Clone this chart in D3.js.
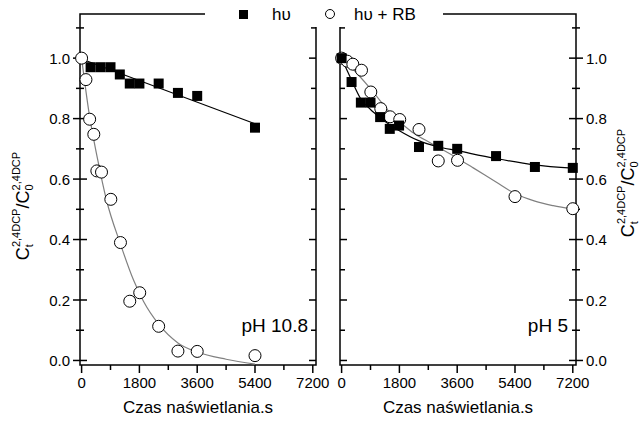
<!DOCTYPE html>
<html>
<head>
<meta charset="utf-8">
<script src="https://cdn.jsdelivr.net/npm/d3@7"></script>
<style>
  body { margin: 0; background: #fff; }
  svg { display: block; font-family: "Liberation Sans", Arial, sans-serif; }
</style>
</head>
<body>
<div id="chart"></div>
<script>
// irradiation time in seconds, ticks
const xTicks = [0, 1800, 3600, 5400, 7200];
const yTicks = [0, 0.2, 0.4, 0.6, 0.8, 1.0];

// pH 10.8 panel
const leftHvT = [280, 590, 900, 1190, 1500, 1800, 2400, 3000, 3600, 5400];
const leftHvC = [0.97, 0.97, 0.97, 0.946, 0.916, 0.916, 0.916, 0.885, 0.875, 0.77];
const leftRbT = [0, 135, 250, 380, 475, 620, 910, 1210, 1500, 1810, 2400, 3000, 3600, 5400];
const leftRbC = [1.0, 0.929, 0.798, 0.748, 0.627, 0.623, 0.533, 0.39, 0.196, 0.224, 0.113, 0.031, 0.030, 0.016];
const leftHvFitT = [0, 5400];
const leftHvFitC = [0.997, 0.783];
const leftRbFitT = [0, 230, 490, 776, 1210, 1620, 1930, 2400, 3000, 3600, 4500, 5400];
const leftRbFitC = [1.0, 0.82, 0.67, 0.53, 0.385, 0.265, 0.195, 0.12, 0.058, 0.028, 0.004, -0.012];

// pH 5 panel
const rightHvT = [0, 310, 600, 900, 1200, 1500, 1790, 2410, 3010, 3600, 4810, 6020, 7200];
const rightHvC = [1.0, 0.921, 0.853, 0.853, 0.805, 0.766, 0.777, 0.706, 0.71, 0.70, 0.676, 0.64, 0.637];
const rightRbT = [0, 175, 350, 620, 910, 1220, 1510, 1810, 2410, 3010, 3610, 5400, 7200];
const rightRbC = [1.0, 0.99, 0.98, 0.96, 0.888, 0.833, 0.806, 0.797, 0.764, 0.66, 0.662, 0.542, 0.502];
const rightHvFitT = [0, 300, 600, 900, 1200, 1500, 1800, 2400, 3000, 3600, 4800, 6000, 7200];
const rightHvFitC = [1.0, 0.93, 0.865, 0.83, 0.803, 0.78, 0.76, 0.727, 0.707, 0.694, 0.668, 0.647, 0.636];
const rightRbFitT = [0, 300, 930, 1520, 2190, 2810, 3590, 4100, 4810, 5400, 6020, 6590, 7200];
const rightRbFitC = [1.0, 0.97, 0.895, 0.818, 0.756, 0.717, 0.67, 0.637, 0.59, 0.552, 0.527, 0.512, 0.5];

const legendNames = ["hυ", "hυ + RB"];
const panelNames = ["pH 10.8", "pH 5"];
const xTitle = "Czas naświetlania.s";

const W = 641, H = 425;
const svg = d3.select("#chart").append("svg")
  .attr("width", W).attr("height", H);
svg.append("rect").attr("width", W).attr("height", H).attr("fill", "#fff");

const y = d3.scaleLinear().domain([-0.015, 1.146]).range([365, 14]);
const yMinor = d3.range(0.1, 1.15, 0.2);
const xMinor = d3.range(900, 7200, 1800);

function zip(ts, cs) { return ts.map((t, i) => [t, cs[i]]); }

function drawPanel(x0, x1, opts) {
  const x = d3.scaleLinear().domain([-50, 7300]).range([x0, x1]);
  const g = svg.append("g");

  // frame
  g.append("rect")
    .attr("x", x0).attr("y", 14).attr("width", x1 - x0).attr("height", 351)
    .attr("fill", "none").attr("stroke", "#000").attr("stroke-width", 1.5);

  // bottom ticks, outward
  xTicks.forEach(t => {
    g.append("line").attr("x1", x(t)).attr("x2", x(t)).attr("y1", 365).attr("y2", 373)
      .attr("stroke", "#000").attr("stroke-width", 1.5);
    g.append("text").attr("x", x(t)).attr("y", 388).attr("text-anchor", "middle")
      .attr("font-size", 15).text(t);
  });
  xMinor.forEach(t => {
    g.append("line").attr("x1", x(t)).attr("x2", x(t)).attr("y1", 365).attr("y2", 370)
      .attr("stroke", "#000").attr("stroke-width", 1.5);
  });

  // y ticks on both sides
  [[x0, opts.leftMode], [x1, opts.rightMode]].forEach(([ax, mode]) => {
    const dir = ax === x0 ? 1 : -1; // inward direction
    yTicks.forEach(v => {
      let a, b;
      if (mode === "cross") { a = ax - 7; b = ax + 7; } else { a = ax; b = ax + dir * 7; }
      g.append("line").attr("x1", a).attr("x2", b).attr("y1", y(v)).attr("y2", y(v))
        .attr("stroke", "#000").attr("stroke-width", 1.5);
    });
    yMinor.forEach(v => {
      let a, b;
      if (mode === "cross") { a = ax - 4; b = ax + 4; } else { a = ax; b = ax + dir * 5; }
      g.append("line").attr("x1", a).attr("x2", b).attr("y1", y(v)).attr("y2", y(v))
        .attr("stroke", "#000").attr("stroke-width", 1.5);
    });
  });

  // y tick labels
  yTicks.forEach(v => {
    const lbl = g.append("text").attr("y", y(v) + 5.5).attr("font-size", 15).text(v.toFixed(1));
    if (opts.labelSide === "left") lbl.attr("x", x0 - 10).attr("text-anchor", "end");
    else lbl.attr("x", x1 + 10).attr("text-anchor", "start");
  });

  // fit lines
  const line = d3.line().x(d => x(d[0])).y(d => y(d[1])).curve(d3.curveMonotoneX);
  g.append("path").datum(zip(opts.rbFitT, opts.rbFitC)).attr("d", line)
    .attr("fill", "none").attr("stroke", "#808080").attr("stroke-width", 1.2);
  g.append("path").datum(zip(opts.hvFitT, opts.hvFitC)).attr("d", line)
    .attr("fill", "none").attr("stroke", "#000").attr("stroke-width", 1.2);

  // markers
  g.selectAll("circle.rb").data(zip(opts.rbT, opts.rbC)).enter().append("circle")
    .attr("cx", d => x(d[0])).attr("cy", d => y(d[1])).attr("r", 6)
    .attr("fill", "#fff").attr("stroke", "#000").attr("stroke-width", 1);
  g.selectAll("rect.hv").data(zip(opts.hvT, opts.hvC)).enter().append("rect")
    .attr("x", d => x(d[0]) - 5).attr("y", d => y(d[1]) - 5)
    .attr("width", 10).attr("height", 10).attr("fill", "#000");

  // panel label
  g.append("text").attr("x", x1 - 8).attr("y", 332).attr("text-anchor", "end")
    .attr("font-size", 19).text(opts.name);

  // x title
  g.append("text").attr("x", (x0 + x1) / 2).attr("y", 413).attr("text-anchor", "middle")
    .attr("font-size", 17).text(xTitle);
}

drawPanel(80, 316, {
  leftMode: "cross", rightMode: "in", labelSide: "left", name: panelNames[0],
  hvT: leftHvT, hvC: leftHvC, rbT: leftRbT, rbC: leftRbC,
  hvFitT: leftHvFitT, hvFitC: leftHvFitC, rbFitT: leftRbFitT, rbFitC: leftRbFitC
});
drawPanel(340, 576, {
  leftMode: "in", rightMode: "cross", labelSide: "right", name: panelNames[1],
  hvT: rightHvT, hvC: rightHvC, rbT: rightRbT, rbC: rightRbC,
  hvFitT: rightHvFitT, hvFitC: rightHvFitC, rbFitT: rightRbFitT, rbFitC: rightRbFitC
});

// y axis titles
function yTitle(bx, cy) {
  const t = svg.append("text")
    .attr("transform", `translate(${bx},${cy}) rotate(-90)`)
    .attr("text-anchor", "middle").attr("font-size", 18);
  t.append("tspan").text("C");
  t.append("tspan").attr("font-size", 11).attr("dy", 4).text("t");
  t.append("tspan").attr("font-size", 11).attr("dx", -3).attr("dy", -13).text("2,4DCP");
  t.append("tspan").attr("dy", 9).text("/C");
  t.append("tspan").attr("font-size", 11).attr("dy", 4).text("0");
  t.append("tspan").attr("font-size", 11).attr("dx", -6).attr("dy", -13).text("2,4DCP");
}
yTitle(29, 206);
yTitle(634, 183);

// legend
const leg = svg.append("g");
leg.append("rect").attr("x", 205).attr("y", 0).attr("width", 238).attr("height", 27).attr("fill", "#fff");
leg.append("rect").attr("x", 239).attr("y", 10).attr("width", 9).attr("height", 9).attr("fill", "#000");
leg.append("text").attr("x", 272).attr("y", 20).attr("font-size", 17).text(legendNames[0]);
leg.append("circle").attr("cx", 330).attr("cy", 14).attr("r", 4.5)
  .attr("fill", "#fff").attr("stroke", "#000").attr("stroke-width", 1);
leg.append("text").attr("x", 354).attr("y", 20).attr("font-size", 17).text(legendNames[1]);
</script>
</body>
</html>
